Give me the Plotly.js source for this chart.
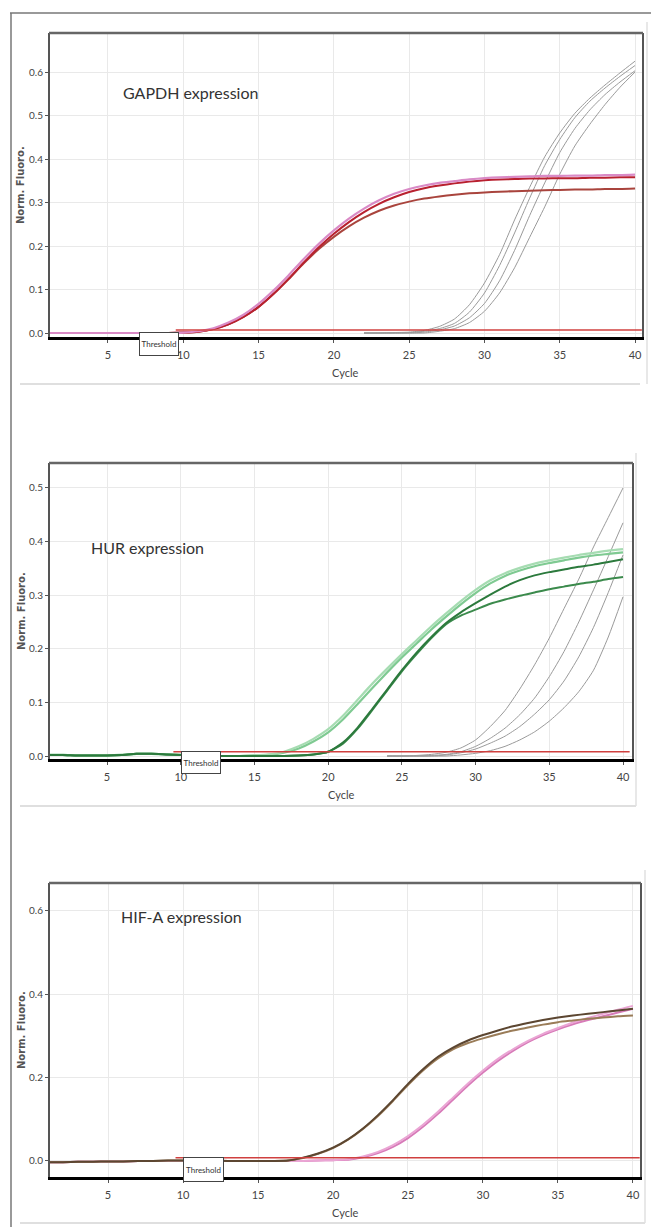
<!DOCTYPE html>
<html>
<head>
<meta charset="utf-8">
<script src="https://cdn.plot.ly/plotly-3.0.1.min.js"></script>
<style>html,body{margin:0;padding:0;background:#fff;}#chart{width:651px;height:1227px;}</style>
</head>
<body>
<div id="chart"></div>
<script>
// ---------- data ----------
const cycles = [1,2,3,4,5,6,7,8,9,10,11,12,13,14,15,16,17,18,19,20,21,22,23,24,25,26,27,28,29,30,31,32,33,34,35,36,37,38,39,40];
const xTicks = [5,10,15,20,25,30,35,40];
const panelTitles = ["GAPDH expression", "HUR expression", "HIF-A expression"];
const yLabel = "Norm. Fluoro.";
const xLabel = "Cycle";
const thresholdLabel = "Threshold";
const thresholds = [0.007, 0.008, 0.008];
const thresholdCycles = [9.5, 40.45];

// GAPDH
const gapdhPink = [0,0,0,0,0,0,0,0,0,0.001, 0.004,0.011,0.024,0.042,0.067,0.098,0.133,0.170,0.205,0.236, 0.263,0.286,0.305,0.320,0.331,0.339,0.345,0.349,0.353,0.356, 0.358,0.359,0.360,0.361,0.361,0.362,0.362,0.363,0.363,0.364];
const gapdhRed = [0,0,0,0,0,0,0,0,0,0.001, 0.003,0.009,0.020,0.037,0.060,0.090,0.125,0.162,0.197,0.228, 0.255,0.278,0.297,0.312,0.324,0.333,0.339,0.344,0.348,0.351, 0.353,0.354,0.355,0.355,0.356,0.356,0.357,0.357,0.358,0.358];
const gapdhBrown = [0,0,0,0,0,0,0,0,0,0.001, 0.003,0.009,0.020,0.037,0.060,0.090,0.124,0.160,0.193,0.221, 0.245,0.265,0.281,0.293,0.302,0.309,0.314,0.318,0.321,0.323, 0.325,0.326,0.327,0.328,0.329,0.330,0.330,0.331,0.331,0.332];
const gapdhGrayCycles = [22,23,24,25,26,27,28,29,30,31,32,33,34,35,36,37,38,39,40];
const gapdhGrayA = [0,0,0.001,0.002,0.006,0.015,0.032,0.065,0.115,0.180,0.260,0.335,0.405,0.460,0.505,0.540,0.570,0.598,0.625];
const gapdhGrayB = [0,0,0,0.001,0.004,0.010,0.022,0.048,0.092,0.155,0.230,0.310,0.385,0.445,0.495,0.533,0.563,0.590,0.615];
const gapdhGrayC = [0,0,0,0,0.002,0.007,0.016,0.035,0.068,0.120,0.190,0.270,0.345,0.415,0.470,0.513,0.548,0.577,0.603];
const gapdhGrayD = [0,0,0,0,0,0.004,0.010,0.024,0.050,0.092,0.150,0.220,0.290,0.365,0.430,0.480,0.525,0.565,0.600];

// HUR
const hurLight1 = [0.002,0.002,0.001,0.001,0.001,0.002,0.004,0.004,0.003,0.002, 0.001,0,0,0,0.001,0.003,0.008,0.018,0.032,0.050, 0.075,0.105,0.135,0.163,0.190,0.216,0.242,0.266,0.289,0.310, 0.328,0.341,0.351,0.359,0.365,0.370,0.375,0.379,0.383,0.386];
const hurLight2 = [0.002,0.002,0.001,0.001,0.001,0.002,0.004,0.004,0.003,0.002, 0.001,0,0,0,0.001,0.002,0.006,0.014,0.027,0.044, 0.068,0.097,0.127,0.156,0.184,0.210,0.236,0.260,0.283,0.304, 0.322,0.336,0.346,0.354,0.360,0.365,0.370,0.374,0.377,0.380];
const hurDark1 = [0.002,0.002,0.001,0.001,0.001,0.002,0.004,0.004,0.003,0.002, 0.001,0,0,0,0,0,0,0.001,0.003,0.008, 0.025,0.053,0.088,0.124,0.160,0.193,0.222,0.248,0.268,0.285, 0.301,0.316,0.328,0.337,0.343,0.348,0.353,0.357,0.362,0.367];
const hurDark2 = [0.002,0.002,0.001,0.001,0.001,0.002,0.004,0.004,0.003,0.002, 0.001,0,0,0,0,0,0,0.001,0.003,0.008, 0.023,0.051,0.086,0.122,0.158,0.190,0.220,0.246,0.262,0.273, 0.284,0.292,0.299,0.305,0.311,0.316,0.321,0.325,0.330,0.334];
const hurGrayCycles = [24,25,26,27,28,29,30,31,32,33,34,35,36,37,38,39,40];
const hurGray1 = [0,0,0.001,0.003,0.007,0.015,0.030,0.055,0.085,0.125,0.170,0.220,0.275,0.330,0.390,0.445,0.500];
const hurGray2 = [0,0,0,0.001,0.003,0.008,0.018,0.033,0.052,0.077,0.108,0.148,0.195,0.250,0.310,0.372,0.435];
const hurGray3 = [0,0,0,0,0.002,0.006,0.013,0.024,0.037,0.055,0.078,0.105,0.140,0.185,0.240,0.305,0.375];
const hurGray4 = [0,0,0,0,0,0.002,0.005,0.010,0.018,0.030,0.045,0.065,0.090,0.120,0.160,0.222,0.297];

// HIF-A
const hifBrown1 = [-0.003,-0.003,-0.002,-0.002,-0.001,-0.001,0,0,0.001,0.001, 0.001,0.001,0,0,0,0,0.001,0.008,0.018,0.032, 0.052,0.078,0.110,0.146,0.185,0.220,0.250,0.272,0.289,0.302, 0.313,0.323,0.331,0.338,0.344,0.349,0.353,0.357,0.361,0.365];
const hifBrown2 = [-0.003,-0.003,-0.002,-0.002,-0.001,-0.001,0,0,0.001,0.001, 0.001,0.001,0,0,0,0,0.001,0.007,0.017,0.031, 0.051,0.077,0.108,0.144,0.182,0.217,0.246,0.268,0.283,0.294, 0.304,0.313,0.320,0.327,0.333,0.337,0.341,0.344,0.347,0.349];
const hifPink1 = [-0.003,-0.003,-0.002,-0.002,-0.001,-0.001,0,0,0,0, 0,0,0,0,0,0,0,0,0.001,0.002, 0.004,0.011,0.022,0.038,0.060,0.087,0.118,0.152,0.186,0.217, 0.245,0.268,0.288,0.305,0.319,0.332,0.343,0.353,0.363,0.372];
const hifPink2 = [-0.003,-0.003,-0.002,-0.002,-0.001,-0.001,0,0,0,0, 0,0,0,0,0,0,0,0,0.001,0.002, 0.003,0.009,0.019,0.034,0.055,0.082,0.113,0.147,0.181,0.212, 0.240,0.264,0.285,0.302,0.316,0.328,0.338,0.347,0.356,0.365];

// ---------- helpers ----------
const W = 651, H = 1227;
const px = x => x / W;
const py = y => 1 - y / H;
const FONT = 'Lato, "Liberation Sans", sans-serif';

function line(x, y, ax, color, width) {
  return {x: x, y: y, xaxis: 'x' + ax, yaxis: 'y' + ax, type: 'scatter', mode: 'lines',
          line: {color: color, width: width, shape: 'spline', smoothing: 0.6}, hoverinfo: 'skip'};
}

const traces = [];
// panel 1
[gapdhGrayA, gapdhGrayB, gapdhGrayC, gapdhGrayD].forEach(v => traces.push(line(gapdhGrayCycles, v, '', '#9a9a9a', 1)));
traces.push(line(cycles, gapdhBrown, '', '#a9443d', 2));
traces.push(line(cycles, gapdhRed, '', '#b8202f', 2));
traces.push(line(cycles, gapdhPink, '', '#d98ac6', 2.2));
traces.push(line(thresholdCycles, [thresholds[0], thresholds[0]], '', '#d0403f', 1.5));
// panel 2
[hurGray1, hurGray2, hurGray3, hurGray4].forEach(v => traces.push(line(hurGrayCycles, v, '2', '#9a9a9a', 1)));
traces.push(line(cycles, hurLight2, '2', '#7fca92', 2.2));
traces.push(line(cycles, hurLight1, '2', '#a6dcb2', 2.2));
traces.push(line(cycles, hurDark2, '2', '#3b8a4c', 2));
traces.push(line(cycles, hurDark1, '2', '#2c7a3d', 2));
traces.push(line(thresholdCycles, [thresholds[1], thresholds[1]], '2', '#d0403f', 1.5));
// panel 3
traces.push(line(cycles, hifPink2, '3', '#d77ab8', 2));
traces.push(line(cycles, hifPink1, '3', '#eaa5d4', 2));
traces.push(line(cycles, hifBrown2, '3', '#9a7c58', 2));
traces.push(line(cycles, hifBrown1, '3', '#5c4631', 2));
traces.push(line(thresholdCycles, [thresholds[2], thresholds[2]], '3', '#d0403f', 1.5));

// geometry of the three plot boxes (pixels)
const boxes = [
  {l: 50, r: 642, t: 33, b: 337, xr: [1.15, 40.46], yr: [-0.0092, 0.6897], dt: 0.1},
  {l: 50, r: 632, t: 463, b: 759, xr: [1.13, 40.61], yr: [-0.0056, 0.5466], dt: 0.1},
  {l: 50, r: 640, t: 883, b: 1177, xr: [1.13, 40.47], yr: [-0.0384, 0.6667], dt: 0.2}
];

const layout = {
  width: W, height: H, margin: {l: 0, r: 0, t: 0, b: 0},
  paper_bgcolor: '#fff', plot_bgcolor: '#fff', showlegend: false,
  shapes: [], annotations: []
};

function note(x, y, text, font, extra) {
  return Object.assign({xref: 'paper', yref: 'paper', x: px(x), y: py(y), text: text, showarrow: false,
    xanchor: 'center', yanchor: 'middle', font: font}, extra || {});
}

boxes.forEach((b, i) => {
  const s = i === 0 ? '' : String(i + 1);
  layout['xaxis' + s] = {
    domain: [px(b.l), px(b.r)], range: b.xr, anchor: 'y' + s,
    tickvals: xTicks, ticks: 'outside', ticklen: 3, tickcolor: '#555', tickwidth: 1,
    tickfont: {family: FONT, size: 11, color: '#444'}, ticklabelstandoff: 3,
    showgrid: true, gridcolor: '#e9e9e9', gridwidth: 1, zeroline: false,
    showline: true, linecolor: '#000', linewidth: 3, fixedrange: true
  };
  layout['yaxis' + s] = {
    domain: [py(b.b), py(b.t)], range: b.yr, anchor: 'x' + s,
    dtick: b.dt, tick0: 0, tickformat: '.1f', ticks: 'outside', ticklen: 3, tickcolor: '#555', tickwidth: 1,
    tickfont: {family: FONT, size: 10, color: '#444'},
    showgrid: true, gridcolor: '#e9e9e9', gridwidth: 1, zeroline: false,
    showline: true, linecolor: '#555', linewidth: 2, mirror: true, fixedrange: true
  };
  layout.shapes.push({type: 'line', xref: 'paper', yref: 'paper', x0: px(b.l - 1), x1: px(b.r + 1), y0: py(b.t), y1: py(b.t),
                      line: {color: '#666', width: 2.5}});
  layout.annotations.push(note(21, (b.t + b.b) / 2, yLabel,
    {family: 'DejaVu Sans', size: 10, color: '#555', weight: 'bold'}, {textangle: -90}));
  layout.annotations.push(note((b.l + b.r) / 2, b.b + 35, xLabel, {family: FONT, size: 11, color: '#444'}));
});

// panel titles
const titlePos = [[121, 93], [89, 547], [119, 917]];
panelTitles.forEach((t, i) => {
  layout.annotations.push(note(titlePos[i][0], titlePos[i][1], t,
    {family: FONT, size: 16, color: '#333'}, {xanchor: 'left'}));
});

// threshold label boxes
const thrBoxes = [[159, 343.5, 36, 20], [201, 762.5, 36, 19], [203.5, 1169.5, 37, 21]];
thrBoxes.forEach(b => {
  layout.annotations.push(note(b[0], b[1], thresholdLabel, {family: FONT, size: 8, color: '#333'},
    {width: b[2], height: b[3], bgcolor: '#fff', bordercolor: '#444', borderwidth: 1, borderpad: 1}));
});

// outer frame and separators
const frameLines = [
  [10, 13, 651, 13, '#777', 1.5],
  [11, 13, 11, 1227, '#777', 1.5],
  [20, 384, 640, 384, '#d4d4d4', 1.5],
  [20, 806, 636, 806, '#d4d4d4', 1.5],
  [20, 1223, 645, 1223, '#d4d4d4', 1.5],
  [647, 22, 647, 384, '#e0e0e0', 1.5],
  [636, 453, 636, 806, '#e0e0e0', 1.5],
  [645, 870, 645, 1223, '#e0e0e0', 1.5]
];
frameLines.forEach(f => layout.shapes.push({type: 'line', xref: 'paper', yref: 'paper',
  x0: px(f[0]), y0: py(f[1]), x1: px(f[2]), y1: py(f[3]), line: {color: f[4], width: f[5]}}));

Plotly.newPlot('chart', traces, layout, {staticPlot: true, displayModeBar: false});
</script>
</body>
</html>
